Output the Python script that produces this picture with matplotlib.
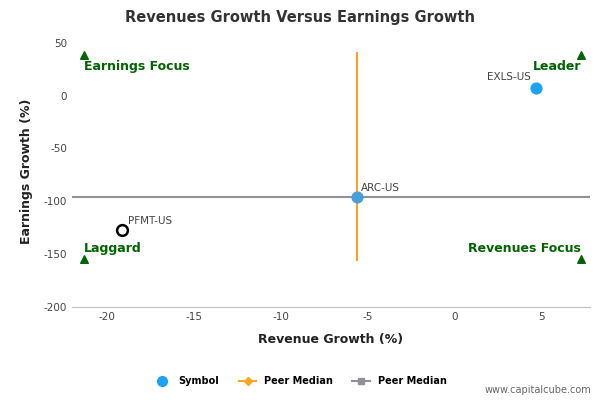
import matplotlib.pyplot as plt
from matplotlib.lines import Line2D

plt.rcParams["axes.unicode_minus"] = False

symbols = ["EXLS-US", "ARC-US", "PFMT-US"]
rev_growth = [4.7, -5.6, -19.1]
earn_growth = [7, -96, -127]
median_rev = -5.6
median_earn = -96
corner_x = [-21.3, 7.3, -21.3, 7.3]
corner_y = [38, 38, -154, -154]
corner_labels = ["Earnings Focus", "Leader", "Laggard", "Revenues Focus"]

fig = plt.figure(figsize=(6, 4), dpi=100)
ax = fig.add_axes([0.12, 0.232, 0.863, 0.68])
ax.set_xlim(-22.0, 7.8)
ax.set_ylim(-200, 57)

ax.plot([median_rev, median_rev], [40, -155], color="#f5a623", lw=1.5, zorder=2)
ax.plot([-22.0, 7.8], [median_earn, median_earn], color="#8e9199", lw=1.5, zorder=2)

ax.scatter(rev_growth[0], earn_growth[0], s=60, color="#1aa3f0", zorder=4)
ax.scatter(rev_growth[1], earn_growth[1], s=60, color="#4a9fd9", zorder=4)
ax.scatter(rev_growth[2], earn_growth[2], s=60, facecolor="white", edgecolor="black", lw=1.8, zorder=4)
ax.text(rev_growth[0] - 0.3, earn_growth[0] + 8, symbols[0], ha="right", fontsize=7.5, color="#444444")
ax.text(rev_growth[1] + 0.2, earn_growth[1] + 6, symbols[1], ha="left", fontsize=7.5, color="#444444")
ax.text(rev_growth[2] + 0.3, earn_growth[2] + 6, symbols[2], ha="left", fontsize=7.5, color="#444444")

ax.scatter(corner_x, corner_y, marker="^", s=30, color="#006400", zorder=3)
green = "#006400"
ax.text(-21.3, 27, corner_labels[0], ha="left", va="center", fontsize=9, fontweight="bold", color=green)
ax.text(7.3, 27, corner_labels[1], ha="right", va="center", fontsize=9, fontweight="bold", color=green)
ax.text(-21.3, -145, corner_labels[2], ha="left", va="center", fontsize=9, fontweight="bold", color=green)
ax.text(7.3, -145, corner_labels[3], ha="right", va="center", fontsize=9, fontweight="bold", color=green)

ax.set_xticks([-20, -15, -10, -5, 0, 5])
ax.set_yticks([50, 0, -50, -100, -150, -200])
ax.tick_params(labelsize=7.5, colors="#444444", length=0)
for s in ["top", "right", "left"]:
    ax.spines[s].set_visible(False)
ax.spines["bottom"].set_color("#c0c0c0")
ax.set_xlabel("Revenue Growth (%)", fontsize=9, fontweight="bold", color="#222222", labelpad=8)
ax.set_ylabel("Earnings Growth (%)", fontsize=9, fontweight="bold", color="#222222", labelpad=8)
fig.text(0.5, 0.945, "Revenues Growth Versus Earnings Growth", ha="center", fontsize=10.5, fontweight="bold", color="#333333")

handles = [
    Line2D([], [], marker="o", color="#1aa3f0", ls="", ms=7),
    Line2D([], [], marker="D", color="#f5a623", ms=4, lw=1.5),
    Line2D([], [], marker="s", color="#8e9199", ms=5, lw=1.5),
]
fig.legend(handles, ["Symbol", "Peer Median", "Peer Median"], loc="center", bbox_to_anchor=(0.5, 0.047),
           ncol=3, frameon=False, prop={"size": 7, "weight": "bold"}, handlelength=1.8)
fig.text(0.985, 0.018, "www.capitalcube.com", ha="right", fontsize=7, color="#666666")

fig.savefig("out.png")
